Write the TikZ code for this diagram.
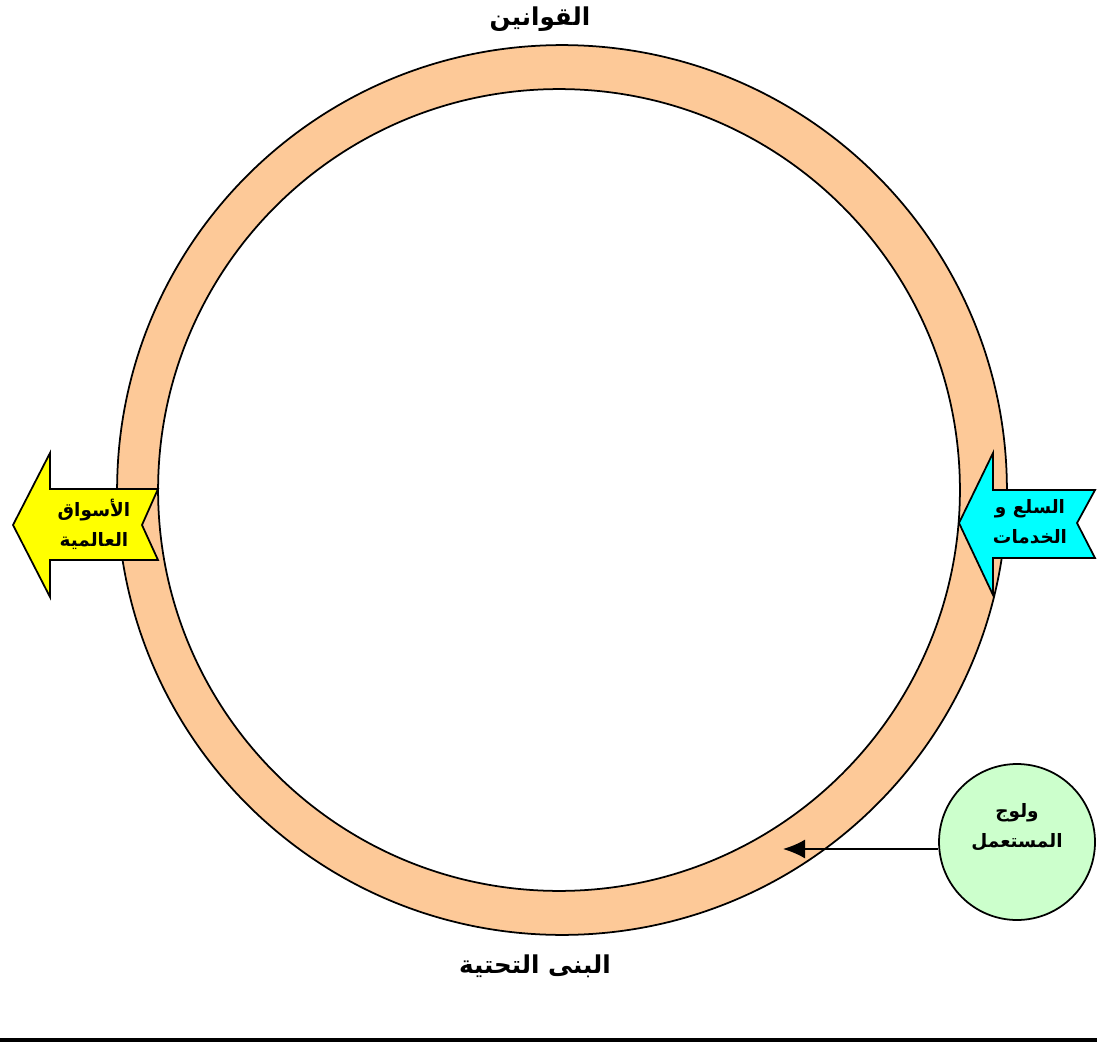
\documentclass[tikz,border=0pt]{standalone}
\usepackage{fontspec}
\usepackage{tikz}
\usetikzlibrary{arrows.meta}
\TeXXeTstate=1
\newfontfamily\arabicfont[Script=Arabic,BoldFont={DejaVu Sans Bold}]{DejaVu Sans}
\definecolor{ringorange}{RGB}{253,201,152}
\definecolor{usergreen}{RGB}{204,255,204}
\definecolor{arrowyellow}{RGB}{255,255,0}
\definecolor{arrowcyan}{RGB}{0,255,255}

\begin{document}
\begin{tikzpicture}[x=0.02cm,y=0.02cm,>={Latex[length=0.44cm,width=0.38cm]},
      line width=1pt,
      big label/.style={font=\arabicfont\bfseries\fontsize{14}{17}\selectfont},
      small label/.style={font=\arabicfont\bfseries\fontsize{10.5}{17}\selectfont,align=center},
      user node/.style={circle,draw,fill=usergreen,minimum size=3.12cm,inner sep=0pt}]

      \useasboundingbox (0,0) rectangle (1097,1046);

      % ring
      \fill[ringorange,draw=black] (562,556) circle [radius=8.9cm];
      \fill[white,draw=black] (559,556) circle [radius=8.02cm];

      % arrows on the ring
      \draw[fill=arrowyellow] (13,521) -- (50,593) -- (50,557) -- (158,557) -- (142,521)
        -- (158,486) -- (50,486) -- (50,449) -- cycle;
      \draw[fill=arrowcyan] (959,523) -- (993,593) -- (993,556) -- (1095,556) -- (1077,523)
        -- (1095,488) -- (993,488) -- (993,451) -- cycle;

      \node[small label] (markets) at (94,522) {\beginR الأسواق\endR\\\beginR العالمية\endR};
      \node[small label] (goods) at (1030,524) {\beginR السلع و\endR\\\beginR الخدمات\endR};

      \node[big label] (laws) at (540,1027) {\beginR القوانين\endR};
      \node[big label] (infra) at (535,80) {\beginR البنى التحتية\endR};

      \node[user node] (user) at (1017,204) {};
      \node[small label] (userlabel) at (1017,219) {\beginR ولوج\endR\\\beginR المستعمل\endR};
      \coordinate (ringpoint) at (783,197);

      \path[->] (user.west |- ringpoint) edge (ringpoint);

      \fill (0,4) rectangle (1097,8);
    \end{tikzpicture}
\end{document}
